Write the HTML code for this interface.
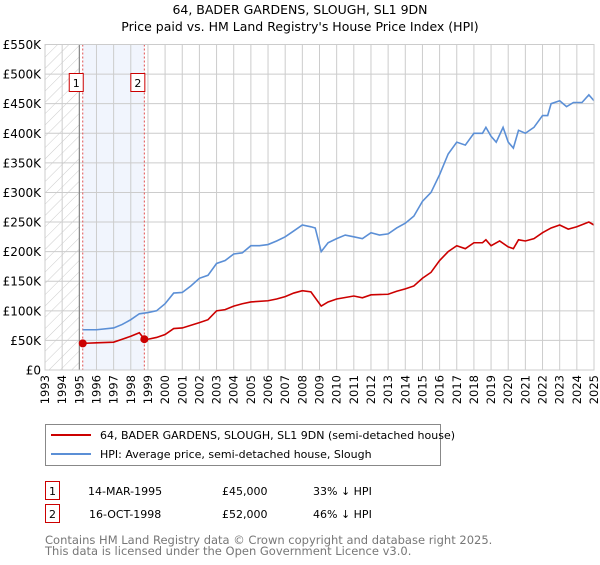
<!DOCTYPE html>
<html><head><meta charset="utf-8"><style>
body{margin:0;background:#fff;font-family:"Liberation Sans","DejaVu Sans",sans-serif;}
svg text{font-family:"DejaVu Sans","Liberation Sans",sans-serif;}
</style></head><body>
<svg id="c" width="600" height="560" viewBox="0 0 600 560">
<text x="300" y="14" text-anchor="middle" font-size="12.5" fill="#000">64, BADER GARDENS, SLOUGH, SL1 9DN</text>
<text x="300" y="31" text-anchor="middle" font-size="12.5" fill="#000">Price paid vs. HM Land Registry's House Price Index (HPI)</text>
<defs><pattern id="hatch" width="8" height="8" patternUnits="userSpaceOnUse" patternTransform="rotate(45)"><line x1="0" y1="0" x2="0" y2="8" stroke="#ccc" stroke-width="1"/></pattern></defs>
<g id="plot"></g>
<g>
<rect x="45.5" y="424.5" width="395" height="41" fill="#fff" stroke="#888"/>
<line x1="51" y1="435" x2="91" y2="435" stroke="#cc0000" stroke-width="2"/>
<text x="100" y="439" font-size="11">64, BADER GARDENS, SLOUGH, SL1 9DN (semi-detached house)</text>
<line x1="51" y1="454" x2="91" y2="454" stroke="#5b8fd6" stroke-width="2"/>
<text x="100" y="458" font-size="11">HPI: Average price, semi-detached house, Slough</text>
</g>
<g font-size="11">
<rect x="45.5" y="481.5" width="14" height="18" fill="#fff" stroke="#cc0000"/>
<text x="52.5" y="495" text-anchor="middle">1</text>
<text x="88" y="495">14-MAR-1995</text>
<text x="222" y="495">£45,000</text>
<text x="313" y="495">33% ↓ HPI</text>
<rect x="45.5" y="504.5" width="14" height="18" fill="#fff" stroke="#cc0000"/>
<text x="52.5" y="518" text-anchor="middle">2</text>
<text x="89" y="518">16-OCT-1998</text>
<text x="222" y="518">£52,000</text>
<text x="313" y="518">46% ↓ HPI</text>
</g>
</svg>
<div style="position:absolute;left:45px;top:535px;font-size:11.5px;color:#777;line-height:11px;font-family:'DejaVu Sans','Liberation Sans',sans-serif">Contains HM Land Registry data © Crown copyright and database right 2025.<br>This data is licensed under the Open Government Licence v3.0.</div>
<script>
const hpiYears=[1995.2,1996,1997,1997.5,1998,1998.5,1999,1999.5,2000,2000.5,2001,2001.5,2002,2002.5,2003,2003.5,2004,2004.5,2005,2005.5,2006,2006.5,2007,2007.5,2008,2008.5,2008.75,2009.1,2009.5,2010,2010.5,2011,2011.5,2012,2012.5,2013,2013.5,2014,2014.5,2015,2015.5,2016,2016.5,2017,2017.5,2018,2018.5,2018.7,2019,2019.3,2019.7,2020,2020.3,2020.6,2021,2021.5,2022,2022.3,2022.5,2023,2023.4,2023.8,2024.3,2024.7,2025];
const hpiValues=[68,68,71,77,85,95,97,100,112,130,131,142,155,160,180,185,196,198,210,210,212,218,225,235,245,242,240,200,215,222,228,225,222,232,228,230,240,248,260,285,300,330,365,385,380,400,400,410,395,385,410,385,375,405,400,410,430,430,450,455,445,452,452,465,455];
const propYears=[1995.2,1996,1997,1997.5,1998,1998.5,1998.79,1999,1999.5,2000,2000.5,2001,2002,2002.5,2003,2003.5,2004,2004.5,2005,2006,2006.5,2007,2007.5,2008,2008.5,2009.1,2009.5,2010,2011,2011.5,2012,2013,2013.5,2014,2014.5,2015,2015.5,2016,2016.5,2017,2017.5,2018,2018.5,2018.7,2019,2019.5,2020,2020.3,2020.6,2021,2021.5,2022,2022.5,2023,2023.5,2024,2024.7,2025];
const propValues=[45,46,47,52,57,63,52,52,55,60,70,71,80,85,100,102,108,112,115,117,120,124,130,134,132,108,115,120,125,122,127,128,133,137,142,155,165,185,200,210,205,215,215,220,210,218,208,205,220,218,222,232,240,245,238,242,250,245];
const saleYears=[1995.2,1998.79];
const saleValues=[45,52];
const saleLabels=["1","2"];
const yTicks=[0,50,100,150,200,250,300,350,400,450,500,550];
const yTickLabels=["£0","£50K","£100K","£150K","£200K","£250K","£300K","£350K","£400K","£450K","£500K","£550K"];
const xTicks=[1993,1994,1995,1996,1997,1998,1999,2000,2001,2002,2003,2004,2005,2006,2007,2008,2009,2010,2011,2012,2013,2014,2015,2016,2017,2018,2019,2020,2021,2022,2023,2024,2025];

const X0=45,X1=594,Y0=370,Y1=44.5;
const xs=y=>X0+(y-1993)/(2025-1993)*(X1-X0);
const ys=v=>Y0-v/550*(Y0-Y1);
const NS='http://www.w3.org/2000/svg';
const g=document.getElementById('plot');
function mk(t,a,p){const e=document.createElementNS(NS,t);for(const k in a)e.setAttribute(k,a[k]);(p||g).appendChild(e);return e;}

const hatch=mk('rect',{x:X0,y:Y1,width:xs(1995)-X0,height:Y0-Y1,fill:'url(#hatch)'});


const shade=mk('rect',{x:xs(saleYears[0]),y:Y1,width:xs(saleYears[1])-xs(saleYears[0]),height:Y0-Y1,fill:'#eef3fc',opacity:0.8});



xTicks.forEach(t=>{
  const l=mk('line',{x1:xs(t),x2:xs(t),y1:Y1,y2:Y0,stroke:'#cccccc','stroke-width':1});
  
  
  const tx=mk('text',{x:0,y:0,'font-size':11.5,'text-anchor':'end',transform:`translate(${xs(t)+4},375) rotate(-90)`});
  tx.textContent=t;
  
  
});
yTicks.forEach((t,i)=>{
  const l=mk('line',{x1:X0,x2:X1,y1:ys(t),y2:ys(t),stroke:'#cccccc','stroke-width':1});
  
  
  const tx=mk('text',{x:41,y:ys(t)+4.5,'font-size':12,'text-anchor':'end'});
  tx.textContent=yTickLabels[i];
  
  
});
const bl=mk('line',{x1:xs(1995),x2:xs(1995),y1:Y1,y2:Y0,stroke:'#777','stroke-width':1});



saleYears.forEach((s,i)=>{
  const l=mk('line',{x1:xs(s),x2:xs(s),y1:Y1,y2:Y0,stroke:'#e05050','stroke-width':1,'stroke-dasharray':'2,2'});
  
  
});

const hp=mk('polyline',{points:hpiYears.map((y,i)=>xs(y)+','+ys(hpiValues[i])).join(' '),fill:'none',stroke:'#5b8fd6','stroke-width':1.6});


const pp=mk('polyline',{points:propYears.map((y,i)=>xs(y)+','+ys(propValues[i])).join(' '),fill:'none',stroke:'#cc0000','stroke-width':1.6});



saleYears.forEach((s,i)=>{
  const c=mk('circle',{cx:xs(s),cy:ys(saleValues[i]),r:4,fill:'#cc0000'});
  
  
  const x=xs(s)-10;
  const r=mk('rect',{x:x-3.5,y:73.5,width:14,height:18,fill:'#fff',stroke:'#cc0000'});
  
  
  const t=mk('text',{x:x+3.5,y:87,'font-size':11,'text-anchor':'middle'});
  t.textContent=saleLabels[i];
  
  
});
const border=mk('rect',{x:X0,y:Y1,width:X1-X0,height:Y0-Y1,fill:'none',stroke:'#ccc'});


</script>
</body></html>
